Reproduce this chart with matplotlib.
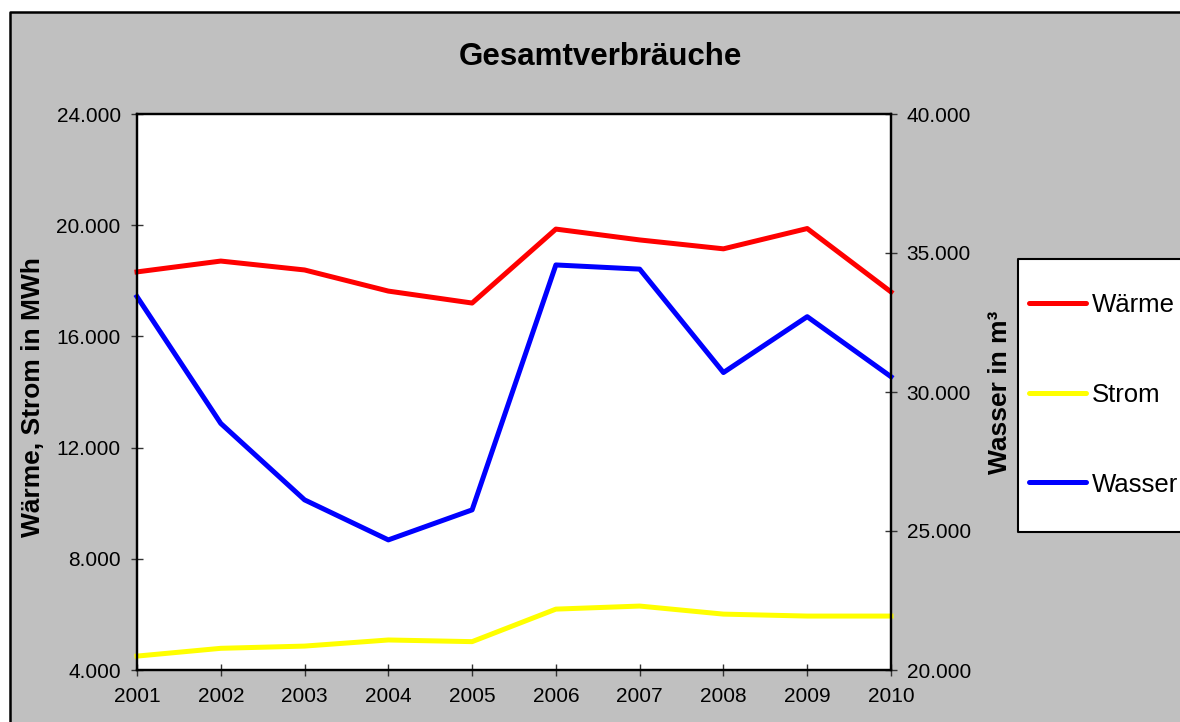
import matplotlib.pyplot as plt
from matplotlib.patches import Rectangle
from matplotlib.lines import Line2D
from matplotlib.ticker import FuncFormatter, MultipleLocator

plt.rcParams['font.family'] = ['Liberation Sans', 'DejaVu Sans']

# Verbrauchsdaten
jahre = [2001, 2002, 2003, 2004, 2005, 2006, 2007, 2008, 2009, 2010]
waerme = [18320, 18710, 18390, 17630, 17200, 19860, 19470, 19150, 19880, 17600]   # MWh
strom = [4500, 4780, 4860, 5080, 5020, 6190, 6300, 6010, 5940, 5940]              # MWh
wasser = [33430, 28870, 26120, 24680, 25760, 34570, 34420, 30700, 32710, 30550]   # m³

serien = ['Wärme', 'Strom', 'Wasser']
farben = ['#FF0000', '#FFFF00', '#0000FF']

W, H = 1180, 722


def de_fmt(v, pos):
    return f'{v:,.0f}'.replace(',', '.')


def fx(px):
    return px / W


def fy(py):
    return 1 - py / H


fig = plt.figure(figsize=(11.8, 7.22), dpi=100, facecolor='white')
# grauer Diagrammbereich, Rahmen nur links/oben sichtbar
fig.patches.append(Rectangle((fx(10), 0), 1, fy(12), transform=fig.transFigure,
                             facecolor='#C0C0C0', edgecolor='none', zorder=-10))
fig.lines.append(Line2D([fx(10), fx(10), 1], [0, fy(12), fy(12)],
                        transform=fig.transFigure, color='black', lw=1.8))

ax = fig.add_axes([fx(137), fy(670), 754 / W, 556 / H])
ax.set_facecolor('white')
ax2 = ax.twinx()

l1, = ax.plot(jahre, waerme, color=farben[0], lw=3.6, clip_on=False)
l2, = ax.plot(jahre, strom, color=farben[1], lw=3.6, clip_on=False)
l3, = ax2.plot(jahre, wasser, color=farben[2], lw=3.6, clip_on=False)

ax.set_xlim(2001, 2010)
ax.set_xticks(jahre)
ax.set_ylim(4000, 24000)
ax.yaxis.set_major_locator(MultipleLocator(4000))
ax.yaxis.set_major_formatter(FuncFormatter(de_fmt))
ax2.set_ylim(20000, 40000)
ax2.yaxis.set_major_locator(MultipleLocator(5000))
ax2.yaxis.set_major_formatter(FuncFormatter(de_fmt))

for a in (ax, ax2):
    for s in a.spines.values():
        s.set_linewidth(1.6)
        s.set_color('black')
    a.tick_params(direction='inout', length=8.5, width=1, color='#333333',
                  labelsize=15)
ax.tick_params(axis='y', pad=7.5)
ax.tick_params(axis='x', pad=8)
ax2.tick_params(axis='y', pad=7)

ax.set_ylabel('Wärme, Strom in MWh', fontsize=19, fontweight='bold')
ax.yaxis.set_label_coords(-0.122, 0.49)
ax2.set_ylabel('Wasser in m³', fontsize=19, fontweight='bold')
ax2.yaxis.set_label_coords(1.128, 0.5)

fig.text(fx(600), fy(57), 'Gesamtverbräuche', fontsize=22.5,
         fontweight='bold', ha='center', va='center')

# Legende (rechts angeschnitten wie im Original)
fig.patches.append(Rectangle((fx(1018), fy(532)), 1, (532 - 259) / H,
                             transform=fig.transFigure, facecolor='white',
                             edgecolor='none', zorder=5))
fig.lines.append(Line2D([1, fx(1018), fx(1018), 1],
                        [fy(259), fy(259), fy(532), fy(532)],
                        transform=fig.transFigure, color='black', lw=1.5, zorder=6))
for i, (name, farbe) in enumerate(zip(serien, farben)):
    yy = fy(303 + i * 89.5)
    fig.lines.append(Line2D([fx(1029), fx(1086)], [yy, yy], transform=fig.transFigure,
                            color=farbe, lw=3.6, solid_capstyle='round', zorder=6))
    fig.text(fx(1092), yy, name, fontsize=18.5, ha='left', va='center_baseline', zorder=6)

fig.savefig('out.png', dpi=100)
